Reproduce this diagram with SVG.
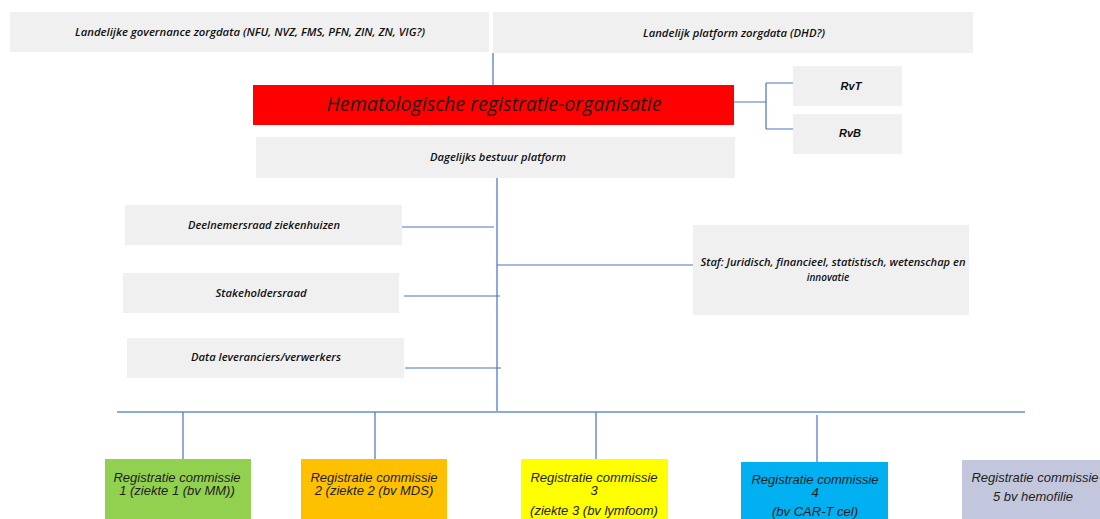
<svg xmlns="http://www.w3.org/2000/svg" width="1100" height="519" viewBox="0 0 1100 519">
<style>
.gbox{fill:#f0f0f0}
.t{font-family:"Open Sans","Liberation Sans",sans-serif;font-style:italic;font-weight:600;font-size:10px;fill:#111;text-anchor:middle}
.r{font-family:"Liberation Sans",Arial,sans-serif;font-style:italic;font-weight:700;font-size:11px;fill:#111;text-anchor:middle}
.c{font-family:"Liberation Sans",Arial,sans-serif;font-style:italic;font-size:13px;fill:#222;text-anchor:middle}
.ln{stroke:#4a72c4;stroke-width:1.2;fill:none}
.lb{stroke:#8eaadb;stroke-width:2;fill:none}
</style>
<rect width="1100" height="519" fill="#fff"/>
<g id="connectors">
<path class="ln" d="M493 53V85"/>
<path class="ln" d="M734 102H766M766 83V129M766 83H793M766 129H793"/>
<path class="lb" d="M497 178V412"/>
<path class="ln" d="M402 227H494M404 296H500M405 368H501M497 265H693"/>
<path class="lb" d="M117 412H1025"/>
<path class="ln" d="M183 412V460M375 412V467M596 412V459M817 415V462"/>
</g>
<g id="n-governance"><rect class="gbox" x="10" y="12" width="479" height="40"/><text class="t" x="250" y="36" textLength="350" lengthAdjust="spacingAndGlyphs">Landelijke governance zorgdata (NFU, NVZ, FMS, PFN, ZIN, ZN, VIG?)</text></g>
<g id="n-platform"><rect class="gbox" x="493" y="12" width="480" height="41"/><text class="t" x="734" y="37" textLength="182" lengthAdjust="spacingAndGlyphs">Landelijk platform zorgdata (DHD?)</text></g>
<g id="n-hemato"><rect x="253" y="85" width="481" height="40" fill="#ff0000"/><text x="494" y="111" font-family="'Open Sans','Liberation Sans',sans-serif" font-style="italic" font-size="20" fill="#1a1a1a" text-anchor="middle" textLength="335" lengthAdjust="spacingAndGlyphs">Hematologische registratie-organisatie</text></g>
<g id="n-rvt"><rect class="gbox" x="793" y="66" width="109" height="40"/><text class="r" x="851" y="90">RvT</text></g>
<g id="n-rvb"><rect class="gbox" x="793" y="114" width="109" height="40"/><text class="r" x="850" y="137">RvB</text></g>
<g id="n-dagelijks"><rect class="gbox" x="256" y="137" width="479" height="41"/><text class="t" x="498" y="161" textLength="136" lengthAdjust="spacingAndGlyphs">Dagelijks bestuur platform</text></g>
<g id="n-deelnemers"><rect class="gbox" x="125" y="205" width="277" height="40"/><text class="t" x="264" y="229" textLength="152" lengthAdjust="spacingAndGlyphs">Deelnemersraad ziekenhuizen</text></g>
<g id="n-stakeholders"><rect class="gbox" x="123" y="273" width="276" height="40"/><text class="t" x="261" y="297" textLength="91" lengthAdjust="spacingAndGlyphs">Stakeholdersraad</text></g>
<g id="n-data"><rect class="gbox" x="127" y="338" width="277" height="40"/><text class="t" x="266" y="361" textLength="150" lengthAdjust="spacingAndGlyphs">Data leveranciers/verwerkers</text></g>
<g id="n-staf"><rect class="gbox" x="693" y="225" width="276" height="90"/><text class="t" x="833" y="266" textLength="265" lengthAdjust="spacingAndGlyphs">Staf: Juridisch, financieel, statistisch, wetenschap en</text><text class="t" x="828" y="281">innovatie</text></g>
<g id="n-rc1"><rect x="105" y="459" width="146" height="60" fill="#92d050"/><text class="c" x="177" y="482">Registratie commissie</text><text class="c" x="177" y="495">1 (ziekte 1 (bv MM))</text></g>
<g id="n-rc2"><rect x="301" y="459" width="146" height="60" fill="#ffc000"/><text class="c" x="374" y="482">Registratie commissie</text><text class="c" x="374" y="495">2 (ziekte 2 (bv MDS)</text></g>
<g id="n-rc3"><rect x="521" y="459" width="147" height="60" fill="#ffff00"/><text class="c" x="594" y="482">Registratie commissie</text><text class="c" x="594" y="495">3</text><text class="c" x="594" y="515">(ziekte 3 (bv lymfoom)</text></g>
<g id="n-rc4"><rect x="741" y="462" width="147" height="57" fill="#00b0f0"/><text class="c" x="815" y="484">Registratie commissie</text><text class="c" x="815" y="497">4</text><text class="c" x="815" y="516">(bv CAR-T cel)</text></g>
<g id="n-rc5"><rect x="962" y="460" width="138" height="59" fill="#c3c7dd"/><text class="c" x="1035" y="482">Registratie commissie</text><text class="c" x="1033" y="501">5 bv hemofilie</text></g>
</svg>
